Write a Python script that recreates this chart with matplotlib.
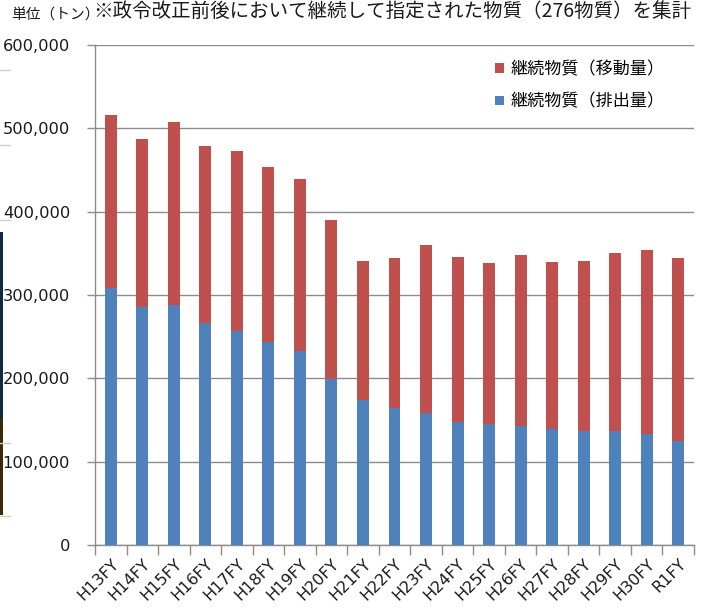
import matplotlib
matplotlib.use("Agg")
import matplotlib.pyplot as plt
from matplotlib.patches import Patch, Rectangle
from matplotlib.lines import Line2D
from matplotlib.ticker import FuncFormatter, FixedLocator
import numpy as np

# Fiscal years
years = ["H13FY", "H14FY", "H15FY", "H16FY", "H17FY", "H18FY", "H19FY", "H20FY",
         "H21FY", "H22FY", "H23FY", "H24FY", "H25FY", "H26FY", "H27FY", "H28FY",
         "H29FY", "H30FY", "R1FY"]

# Release amount of continuing substances (tonnes)
release = [308000, 286000, 288000, 266800, 257200, 243600, 233200, 198800,
           174000, 164000, 158000, 147600, 144800, 143200, 139200, 136800,
           136800, 132800, 125200]

# Release + transfer total (tonnes)
total = [516000, 487200, 507200, 479200, 472400, 454000, 439400, 389800,
         340800, 344000, 360000, 345600, 338400, 348400, 339600, 340800,
         350000, 353600, 344800]

transfer = [t - r for t, r in zip(total, release)]

y_ticks = [0, 100000, 200000, 300000, 400000, 500000, 600000]

RED = "#C0504D"
BLUE = "#4F81BD"
GRID = "#8C8C8C"
CJK = "Noto Sans CJK JP"

plt.rcParams["font.family"] = ["DejaVu Sans", CJK]

W, H = 704, 609
fig = plt.figure(figsize=(W / 100, H / 100), dpi=100)
ax = fig.add_axes([95 / W, 1 - 545 / H, (694 - 95) / W, 500 / H])

x = np.arange(len(years))
bw = 0.38
ax.bar(x, release, width=bw, color=BLUE, zorder=3)
ax.bar(x, transfer, width=bw, bottom=release, color=RED, zorder=3)

ax.set_xlim(-0.5, len(years) - 0.5)
ax.set_ylim(0, 600000)

ax.yaxis.set_major_locator(FixedLocator(y_ticks))
ax.yaxis.set_major_formatter(FuncFormatter(lambda v, p: f"{int(v):,}"))
ax.grid(axis="y", color=GRID, linewidth=1.0, zorder=0)

for s in ["top", "right"]:
    ax.spines[s].set_visible(False)
for s in ["left", "bottom"]:
    ax.spines[s].set_color(GRID)
    ax.spines[s].set_linewidth(1.0)

ax.tick_params(axis="y", direction="out", length=6, width=1, color=GRID,
               pad=12, labelsize=11.7, labelcolor="#1a1a1a")

# Category boundaries carry the tick marks, labels sit at bar centres
ax.set_xticks(np.arange(len(years) + 1) - 0.5)
ax.set_xticklabels([])
ax.tick_params(axis="x", which="major", direction="out", length=7, width=1, color=GRID)
ax.set_xticks(x, minor=True)
ax.set_xticklabels(years, minor=True, rotation=45, ha="right", va="top",
                   rotation_mode="anchor", fontsize=11.5, color="#1a1a1a")
ax.tick_params(axis="x", which="minor", length=0, pad=8)

handles = [Patch(facecolor=RED, edgecolor="none"), Patch(facecolor=BLUE, edgecolor="none")]
ax.legend(handles, ["継続物質（移動量）", "継続物質（排出量）"],
          loc="upper left", bbox_to_anchor=(495 / W, 1 - 60 / H),
          bbox_transform=fig.transFigure, frameon=False, borderpad=0,
          borderaxespad=0, handlelength=0.5, handleheight=0.5,
          handletextpad=0.42, labelspacing=0.85,
          prop={"family": CJK, "size": 12.3})

# Header texts
fig.text(93 / W, 1 - 1 / H, "※政令改正前後において継続して指定された物質（276物質）を集計",
         family=CJK, fontsize=14.0, color="#1a1a1a", ha="left", va="top")
fig.text(11 / W, 1 - 16 / H, "単位（トン）", family=CJK, fontsize=10.6,
         color="#1a1a1a", ha="left", va="center")

# Strip of a neighbouring panel on the left edge
fig.add_artist(Rectangle((0, 1 - 418 / H), 2.5 / W, (418 - 232) / H,
                         transform=fig.transFigure, facecolor="#0d2a45", edgecolor="none"))
fig.add_artist(Rectangle((0, 1 - 515 / H), 2.5 / W, (515 - 418) / H,
                         transform=fig.transFigure, facecolor="#3a2a08", edgecolor="none"))
for yy in [70, 145, 220, 443, 516]:
    fig.add_artist(Line2D([0, 10 / W], [1 - yy / H] * 2, transform=fig.transFigure,
                          color="#cfcfcf", linewidth=1))

fig.savefig("out.png", dpi=100)
